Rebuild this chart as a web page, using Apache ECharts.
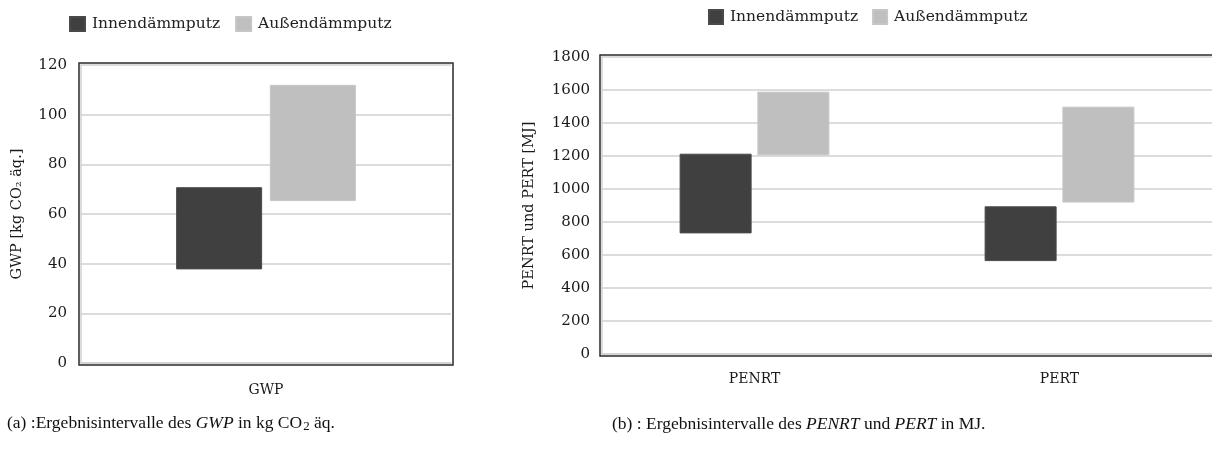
<!DOCTYPE html>
<html>
<head>
<meta charset="utf-8">
<script src="https://cdn.jsdelivr.net/npm/echarts@6/dist/echarts.min.js"></script>
<style>
  html, body { margin: 0; padding: 0; background: #fff; }
  #chart { width: 1212px; height: 449px; }
</style>
</head>
<body>
<div id="chart"></div>
<script>
// (a) GWP in kg CO2 aeq.
var catsA = ['GWP'];
var innenMinA = [37.7];
var innenMaxA = [70.8];
var aussenMinA = [65.2];
var aussenMaxA = [112];

// (b) PENRT / PERT in MJ
var catsB = ['PENRT', 'PERT'];
var innenMinB = [731, 563];
var innenMaxB = [1214, 895];
var aussenMinB = [1204, 918];
var aussenMaxB = [1590, 1499];

var seriesNames = ['Innendämmputz', 'Außendämmputz'];

var dark = '#404040';
var light = '#bfbfbf';
var serif = 'DejaVu Serif';

function span(lo, hi) {
  return hi.map(function (v, i) { return +(v - lo[i]).toFixed(2); });
}

function rangeSeries(idx, stack, name, lo, hi, color, bw, gap) {
  return [
    {
      type: 'bar', stack: stack, xAxisIndex: idx, yAxisIndex: idx,
      data: lo, barWidth: bw, barGap: gap, silent: true,
      itemStyle: { color: 'transparent' }
    },
    {
      name: name, type: 'bar', stack: stack, xAxisIndex: idx, yAxisIndex: idx,
      data: span(lo, hi), barWidth: bw, barGap: gap,
      itemStyle: { color: color, borderColor: color === dark ? '#4a4a4a' : '#c6c6c6', borderWidth: 1 }
    }
  ];
}

var plain = function (v) { return String(v); };

var captionRich = {
  i: { fontStyle: 'italic', fontFamily: 'Liberation Serif', fontSize: 17.5, color: '#111' },
  s: { fontFamily: 'Liberation Serif', fontSize: 13, color: '#111', padding: [7, 0, 0, 1] }
};

var myChart = echarts.init(document.getElementById('chart'));

var option = {
  animation: false,
  textStyle: { fontFamily: serif, color: '#1a1a1a' },
  legend: [
    {
      left: 64, top: 11, itemWidth: 15, itemHeight: 14, itemGap: 15,
      icon: 'rect', data: seriesNames,
      textStyle: { fontFamily: serif, fontSize: 15.5, color: '#222', padding: [0, 0, 0, 2] }
    },
    {
      left: 703, top: 4, itemWidth: 14, itemHeight: 14, itemGap: 14,
      icon: 'rect', data: seriesNames,
      textStyle: { fontFamily: serif, fontSize: 15.5, color: '#222', padding: [0, 0, 0, 2] }
    }
  ],
  grid: [
    { left: 81, top: 65, width: 370, height: 298 },
    { left: 602, top: 57, width: 612, height: 297 }
  ],
  xAxis: [
    {
      type: 'category', gridIndex: 0, data: catsA,
      axisLine: { lineStyle: { color: '#d0d0d0', width: 1.5 } },
      axisTick: { show: false },
      axisLabel: { fontFamily: serif, fontSize: 14, color: '#1a1a1a', margin: 20 }
    },
    {
      type: 'category', gridIndex: 1, data: catsB,
      axisLine: { lineStyle: { color: '#d0d0d0', width: 1.5 } },
      axisTick: { show: false },
      axisLabel: { fontFamily: serif, fontSize: 14, color: '#1a1a1a', margin: 18 }
    }
  ],
  yAxis: [
    {
      type: 'value', gridIndex: 0, min: 0, max: 120, interval: 20,
      name: 'GWP [kg CO₂ äq.]', nameLocation: 'middle', nameGap: 56,
      nameTextStyle: { fontFamily: serif, fontSize: 14.5, color: '#1a1a1a' },
      axisLine: { show: true, lineStyle: { color: '#d0d0d0', width: 1.5 } },
      axisTick: { show: false },
      axisLabel: { fontFamily: serif, fontSize: 15, color: '#1a1a1a', margin: 14, formatter: plain },
      splitLine: { lineStyle: { color: '#d0d0d0', width: 1.5 } }
    },
    {
      type: 'value', gridIndex: 1, min: 0, max: 1800, interval: 200,
      name: 'PENRT und PERT [MJ]', nameLocation: 'middle', nameGap: 65,
      nameTextStyle: { fontFamily: serif, fontSize: 14.5, color: '#1a1a1a' },
      axisLine: { show: true, lineStyle: { color: '#d0d0d0', width: 1.5 } },
      axisTick: { show: false },
      axisLabel: { fontFamily: serif, fontSize: 15, color: '#1a1a1a', margin: 12, formatter: plain },
      splitLine: { lineStyle: { color: '#d0d0d0', width: 1.5 } }
    }
  ],
  series: [].concat(
    rangeSeries(0, 'innenA', seriesNames[0], innenMinA, innenMaxA, dark, 86, '9%'),
    rangeSeries(0, 'aussenA', seriesNames[1], aussenMinA, aussenMaxA, light, 86, '9%'),
    rangeSeries(1, 'innenB', seriesNames[0], innenMinB, innenMaxB, dark, 72, '8%'),
    rangeSeries(1, 'aussenB', seriesNames[1], aussenMinB, aussenMaxB, light, 72, '8%')
  ),
  graphic: [
    // outer dark frames round the plot areas
    { type: 'rect', shape: { x: 79, y: 63, width: 374, height: 302 },
      style: { fill: 'none', stroke: '#2a2a2a', lineWidth: 1.5 }, silent: true },
    { type: 'rect', shape: { x: 600, y: 55, width: 620, height: 301 },
      style: { fill: 'none', stroke: '#2a2a2a', lineWidth: 1.5 }, silent: true },
    {
      type: 'text', left: 7, top: 414,
      style: {
        text: '(a) :Ergebnisintervalle des {i|GWP} in kg CO{s|2} äq.',
        font: '17.5px "Liberation Serif"', fill: '#111',
        rich: captionRich
      }
    },
    {
      type: 'text', left: 612, top: 415,
      style: {
        text: '(b) : Ergebnisintervalle des {i|PENRT} und {i|PERT} in MJ.',
        font: '17.5px "Liberation Serif"', fill: '#111',
        rich: captionRich
      }
    }
  ]
};
myChart.setOption(option);
</script>
</body>
</html>
